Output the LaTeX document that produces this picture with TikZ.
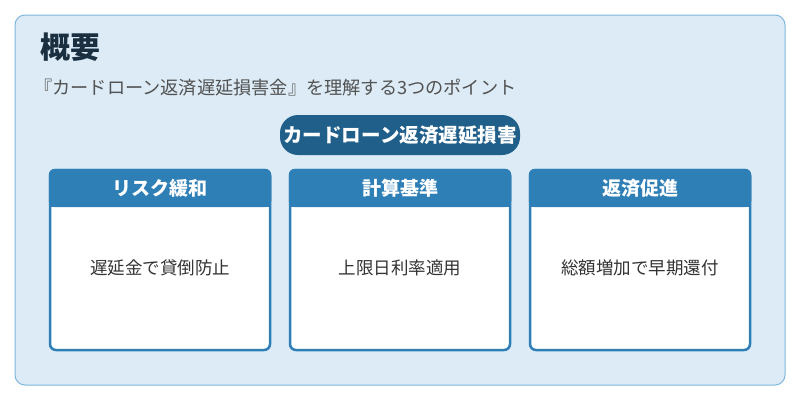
\documentclass[tikz,border=0pt]{standalone}
\usepackage{fontspec}
\setmainfont{Noto Sans CJK JP}
\begin{document}
\begin{tikzpicture}[x=1pt,y=-1pt,
  card/.style={draw=cardblue,line width=2.5pt,fill=white,rounded corners=6pt},
  head/.style={font=\bfseries\fontsize{19}{22}\selectfont,text=white},
  body/.style={font=\fontsize{17.5}{20}\selectfont,text=txt}]
\definecolor{bg}{HTML}{DCEBF6}
\definecolor{bord}{HTML}{7FB6DD}
\definecolor{cardblue}{HTML}{2E7FB6}
\definecolor{pill}{HTML}{1F5F8A}
\definecolor{txt}{HTML}{333333}
\definecolor{ttl}{HTML}{1A2F40}
\useasboundingbox (0,0) rectangle (800,400);
\fill[white] (0,0) rectangle (800,400);
\draw[fill=bg,draw=bord,line width=1pt,rounded corners=10pt] (15,15) rectangle (785,385);
\node[anchor=west,font=\bfseries\fontsize{30}{34}\selectfont,text=ttl,inner sep=0pt] (title) at (40,47) {概要};
\node[anchor=west,font=\fontsize{18.2}{20}\selectfont,text=txt!85,inner sep=0pt] (sub) at (34,88) {『カードローン返済遅延損害金』を理解する3つのポイント};
\node[fill=pill,rounded corners=18pt,minimum width=240pt,minimum height=40pt,inner sep=0pt,font=\bfseries\fontsize{19.5}{22}\selectfont,text=white] (pill) at (400,135) {カードローン返済遅延損害};
\foreach \x/\h/\b/\n in {50/リスク緩和/遅延金で貸倒防止/a,290/計算基準/上限日利率適用/b,530/返済促進/総額増加で早期還付/c}{
  \draw[card] (\x,170) rectangle ++(220,180);
  \fill[cardblue,rounded corners=6pt] (\x-1.25,168.75) rectangle ++(222.5,38.25);
  \fill[cardblue] (\x-1.25,195) rectangle ++(222.5,12);
  \node[head] (h\n) at (\x+110,188) {\h};
  \node[body] (b\n) at (\x+110,268) {\b};
}
\end{tikzpicture}
\end{document}
